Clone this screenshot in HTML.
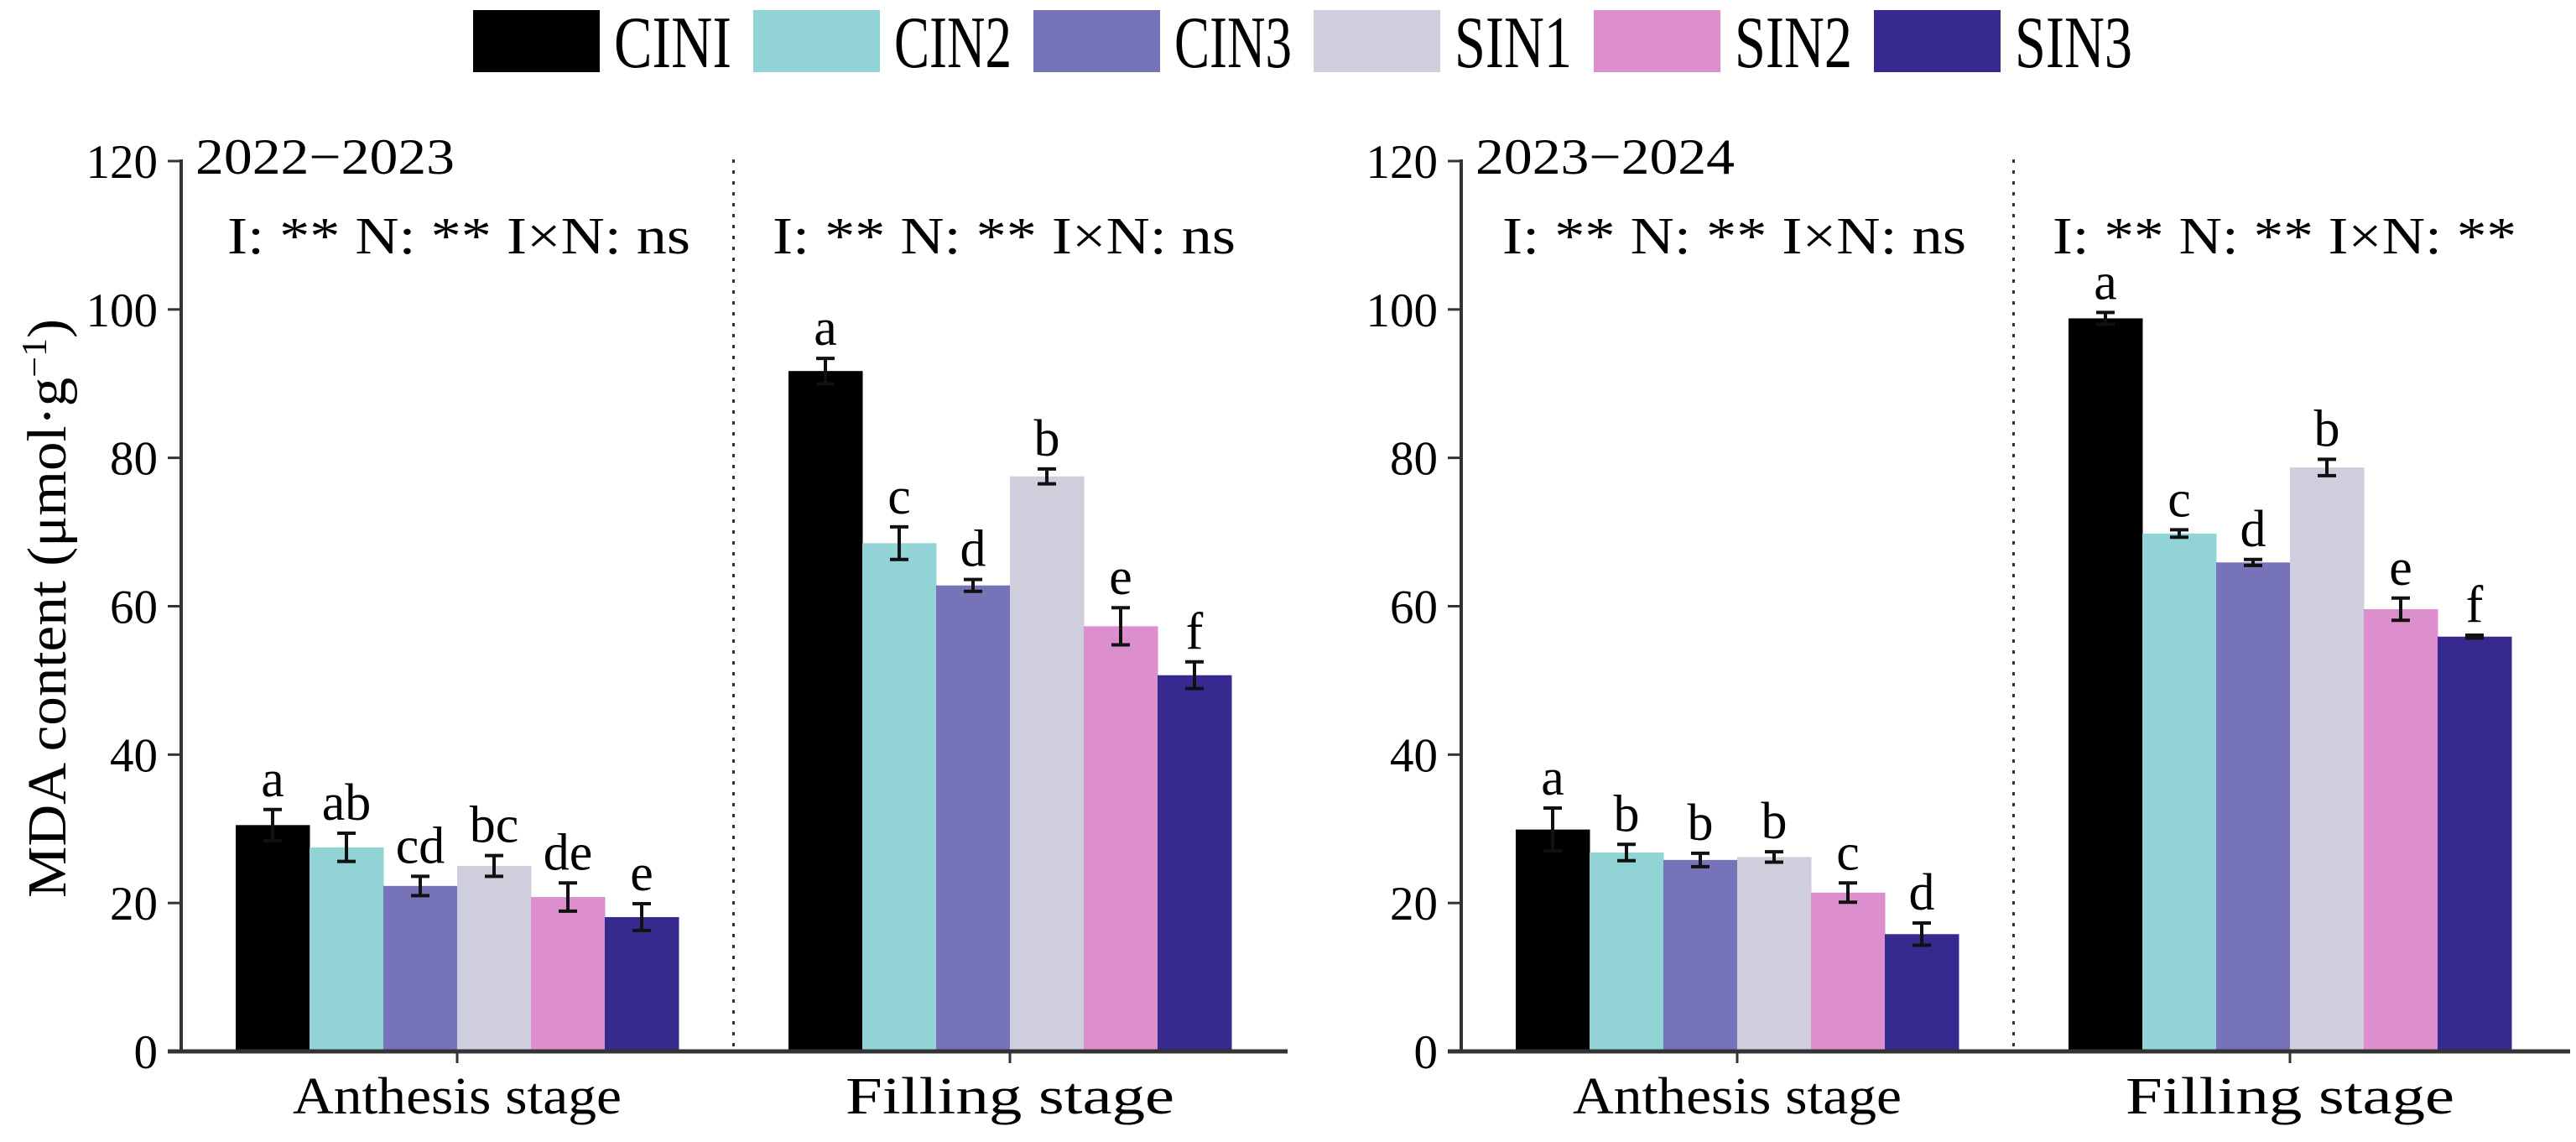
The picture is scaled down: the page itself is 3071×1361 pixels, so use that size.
<!DOCTYPE html>
<html><head><meta charset="utf-8"><style>
html,body{margin:0;padding:0;background:#fff;}
svg, svg text{font-family:"Liberation Serif","Times New Roman",Times,serif;}
</style></head><body>
<svg id="chart" width="3071" height="1356" viewBox="0 0 3071 1356" xmlns="http://www.w3.org/2000/svg" font-family="Liberation Serif, serif">
<g id="legend"></g>
<text font-family="Liberation Serif, serif" transform="translate(78,725) rotate(-90)" text-anchor="middle" font-size="66" textLength="690" lengthAdjust="spacingAndGlyphs">MDA content (μmol·g<tspan baseline-shift="super" font-size="42">−1</tspan>)</text>
<g id="panels"></g>
</svg>
<script>
const series = ["CINI","CIN2","CIN3","SIN1","SIN2","SIN3"];
const colors = ["#000000","#92d4d6","#7773b8","#cfcedc","#dc8ecd","#372a8f"];
const stages = ["Anthesis stage","Filling stage"];
const yTicks = [0,20,40,60,80,100,120];
const years = ["2022−2023","2023−2024"];
const p1AnthVals = [30.5,27.5,22.3,25.0,20.8,18.1];
const p1AnthErr = [2.1,1.9,1.3,1.4,1.9,1.8];
const p1AnthLet = ["a","ab","cd","bc","de","e"];
const p1FillVals = [91.7,68.5,62.8,77.5,57.3,50.7];
const p1FillErr = [1.7,2.2,0.8,1.0,2.5,1.8];
const p1FillLet = ["a","c","d","b","e","f"];
const p2AnthVals = [29.9,26.8,25.8,26.2,21.4,15.8];
const p2AnthErr = [2.9,1.1,0.9,0.7,1.3,1.5];
const p2AnthLet = ["a","b","b","b","c","d"];
const p2FillVals = [98.8,69.8,65.9,78.7,59.6,55.9];
const p2FillErr = [0.8,0.5,0.4,1.1,1.5,0.2];
const p2FillLet = ["a","c","d","b","e","f"];
const p1Stats = ["I: **  N: **  I×N: ns","I: **  N: **  I×N: ns"];
const p2Stats = ["I: **  N: **  I×N: ns","I: **  N: **  I×N: **"];

const NS="http://www.w3.org/2000/svg";
const FF="Liberation Serif, serif";
function mk(tag,attrs,parent){const e=document.createElementNS(NS,tag);for(const k in attrs)e.setAttribute(k,attrs[k]);if(tag==='text')e.setAttribute('font-family',FF);parent.appendChild(e);return e;}
const Y0=1253, PXU=8.842;
function yS(v){return Y0-v*PXU;}
const BW=88;

const lg=document.getElementById('legend');
series.forEach((s,i)=>{
  const x=564+i*334;
  const r=mk('rect',{x:x,y:12,width:151,height:74,fill:colors[i]},lg);
  
  
  const t=mk('text',{x:x+168,y:80,'font-size':88,textLength:140,lengthAdjust:'spacingAndGlyphs'},lg);
  t.textContent=s;
  
  
});

const panels=[
 {ax:216, end:1535, year:years[0], vals:[p1AnthVals,p1FillVals], errs:[p1AnthErr,p1FillErr], lets:[p1AnthLet,p1FillLet], stats:p1Stats, statsX:[271,921], statsW:552},
 {ax:1742, end:3064, year:years[1], vals:[p2AnthVals,p2FillVals], errs:[p2AnthErr,p2FillErr], lets:[p2AnthLet,p2FillLet], stats:p2Stats, statsX:[1791,2447], statsW:553}
];
const pg=document.getElementById('panels');
panels.forEach((p,pi)=>{
  const g=mk('g',{},pg);
  
  
  const c0=p.ax+329, c1=c0+659;
  const centers=[c0,c1];
  const dv=mk('line',{x1:(c0+c1)/2,y1:190,x2:(c0+c1)/2,y2:Y0,stroke:'#333','stroke-width':3,'stroke-dasharray':'4 9'},g);
  
  
  centers.forEach((cx,si)=>{
    const start=cx-3*BW;
    p.vals[si].forEach((v,i)=>{
      const bx=start+i*BW, top=yS(v);
      const b=mk('rect',{x:bx,y:top,width:BW+0.5,height:Y0-top,fill:colors[i]},g);
      
      
      const e=p.errs[si][i], mx=bx+BW/2, et=yS(v+e), eb=yS(v-e);
      const eg=mk('path',{d:`M${mx},${et}V${eb}M${mx-11},${et}H${mx+11}M${mx-11},${eb}H${mx+11}`,stroke:'#111','stroke-width':4,fill:'none'},g);
      
      
      const lt=mk('text',{x:mx,y:et-16,'text-anchor':'middle','font-size':62},g);
      lt.textContent=p.lets[si][i];
      
      
    });
    const tk=mk('line',{x1:cx,y1:Y0,x2:cx,y2:Y0+14,stroke:'#333','stroke-width':3},g);
    
    
    const xl=mk('text',{x:cx,y:1327,'text-anchor':'middle','font-size':62,textLength:392,lengthAdjust:'spacingAndGlyphs'},g);
    xl.textContent=stages[si];
    
    
    const st=mk('text',{x:p.statsX[si],y:302,'font-size':62,textLength:p.statsW,lengthAdjust:'spacingAndGlyphs','xml:space':'preserve'},g);
    st.textContent=p.stats[si];
    
    
  });
  const ya=mk('line',{x1:p.ax,y1:yS(120)-2,x2:p.ax,y2:Y0+2,stroke:'#333','stroke-width':4},g);
  
  
  const xa=mk('line',{x1:p.ax-16,y1:Y0,x2:p.end,y2:Y0,stroke:'#333','stroke-width':5},g);
  
  
  yTicks.forEach(t=>{
    const y=yS(t);
    const tl=mk('line',{x1:p.ax-16,y1:y,x2:p.ax,y2:y,stroke:'#333','stroke-width':3},g);
    
    
    const tt=mk('text',{x:p.ax-28,y:y+20,'text-anchor':'end','font-size':57},g);
    tt.textContent=t;
    
    
  });
  const yr=mk('text',{x:p.ax+17,y:207,'font-size':60,textLength:309,lengthAdjust:'spacingAndGlyphs'},g);
  yr.textContent=p.year;
  
  
});
</script>
</body></html>
